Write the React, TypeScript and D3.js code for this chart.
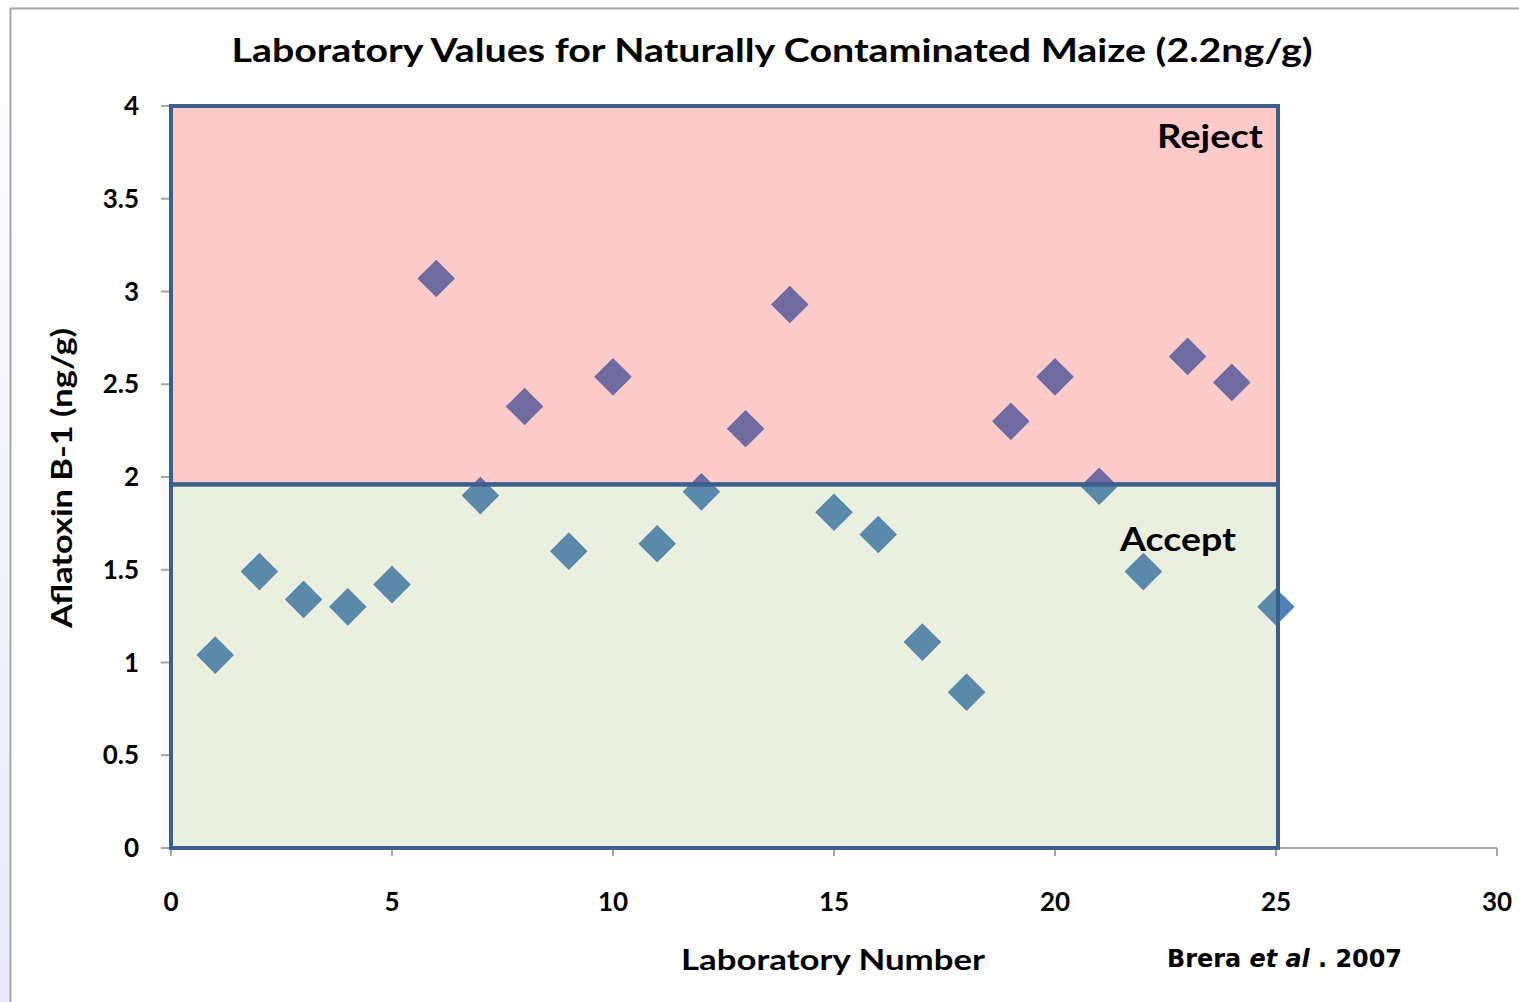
import React from "react";
import * as d3 from "d3";

const labs = [1, 2, 3, 4, 5, 6, 7, 8, 9, 10, 11, 12, 13, 14, 15, 16, 17, 18, 19, 20, 21, 22, 23, 24, 25];
const values = [1.04, 1.49, 1.34, 1.3, 1.42, 3.07, 1.9, 2.38, 1.6, 2.54, 1.64, 1.92, 2.26, 2.93, 1.81, 1.69, 1.11, 0.84, 2.3, 2.54, 1.95, 1.49, 2.65, 2.51, 1.3];
const xTicks = [0, 5, 10, 15, 20, 25, 30];
const yTicks = [0, 0.5, 1, 1.5, 2, 2.5, 3, 3.5, 4];
const zoneLimit = 25;
const threshold = 1.96;
const yMax = 4;

const W = 1519;
const H = 1002;

export default function App() {
  const x = d3.scaleLinear().domain([0, 30]).range([171, 1497]);
  const y = d3.scaleLinear().domain([0, 4]).range([848, 106]);
  const diamond = d3.symbol().type(d3.symbolDiamond2).size(880)();
  const font = "Lato, 'Open Sans', sans-serif";

  const rejX = x(0), rejW = x(zoneLimit) - x(0) + 2;
  const rejY = y(yMax), rejH = y(threshold) - y(yMax);
  const accY = y(threshold), accH = y(0) - y(threshold);

  const markers = (fill: string) =>
    labs.map((l, i) => (
      <path key={l} d={diamond as string} transform={`translate(${x(l)},${y(values[i])})`} fill={fill} />
    ));

  return (
    <svg width={W} height={H} style={{ position: "absolute", left: 0, top: 0, background: "#fff" }}>
      <defs>
        <linearGradient id="lstrip" x1="0" y1="0" x2="0" y2="1">
          <stop offset="0" stopColor="#ffffff" />
          <stop offset="0.5" stopColor="#f3f4fb" />
          <stop offset="1" stopColor="#e8eaf8" />
        </linearGradient>
        <clipPath id="clipRej">
          <rect x={rejX} y={rejY} width={rejW} height={rejH} />
        </clipPath>
        <clipPath id="clipAcc">
          <rect x={rejX} y={accY} width={rejW} height={accH} />
        </clipPath>
      </defs>
      <rect x={0} y={0} width={10} height={H} fill="url(#lstrip)" />
      <line x1={10.5} y1={8} x2={10.5} y2={H} stroke="#a6a6a6" strokeWidth={2} />
      <line x1={10} y1={8.5} x2={W} y2={8.5} stroke="#a6a6a6" strokeWidth={2} />

      {/* zones */}
      <rect x={rejX} y={rejY} width={rejW} height={rejH} fill="#fdcaca" />
      <rect x={rejX} y={accY} width={rejW} height={accH} fill="#ebefdf" />

      {/* axes */}
      <line x1={x(0)} y1={y(0)} x2={x(30)} y2={y(0)} stroke="#a6a6a6" strokeWidth={2} />
      <line x1={x(0)} y1={y(0)} x2={x(0)} y2={y(4)} stroke="#a6a6a6" strokeWidth={2} />
      {xTicks.map((t) => (
        <g key={t}>
          <line x1={x(t)} y1={y(0)} x2={x(t)} y2={y(0) + 8} stroke="#a6a6a6" strokeWidth={2} />
          <text x={x(t)} y={911} textAnchor="middle" fontFamily={font} fontWeight={700} fontSize={26} fill="#000">
            {t}
          </text>
        </g>
      ))}
      {yTicks.map((t) => (
        <g key={t}>
          <line x1={x(0) - 10} y1={y(t)} x2={x(0)} y2={y(t)} stroke="#a6a6a6" strokeWidth={2} />
          <text x={139} y={y(t) + 9} textAnchor="end" fontFamily={font} fontWeight={700} fontSize={26} fill="#000">
            {t}
          </text>
        </g>
      ))}

      {/* markers */}
      <g>{markers("#4f81bd")}</g>
      <g clipPath="url(#clipRej)">{markers("#6f6aa0")}</g>
      <g clipPath="url(#clipAcc)">{markers("#5b89aa")}</g>

      {/* zone borders */}
      <rect x={rejX} y={rejY} width={rejW} height={rejH} fill="none" stroke="#3b5e8d" strokeWidth={4} />
      <rect x={rejX} y={accY} width={rejW} height={accH} fill="none" stroke="#3b5e8d" strokeWidth={4} />

      {/* texts */}
      <text x={772} y={62} textAnchor="middle" fontFamily={font} fontWeight={700} fontSize={33} fill="#000" textLength={1081} lengthAdjust="spacingAndGlyphs">
        Laboratory Values for Naturally Contaminated  Maize (2.2ng/g)
      </text>
      <text x={1263} y={148} textAnchor="end" fontFamily={font} fontWeight={700} fontSize={33} fill="#000" textLength={106} lengthAdjust="spacingAndGlyphs">
        Reject
      </text>
      <text x={1236} y={551} textAnchor="end" fontFamily={font} fontWeight={700} fontSize={33} fill="#000" textLength={116} lengthAdjust="spacingAndGlyphs">
        Accept
      </text>
      <text x={833} y={970} textAnchor="middle" fontFamily={font} fontWeight={700} fontSize={29} fill="#000" textLength={304} lengthAdjust="spacingAndGlyphs">
        Laboratory Number
      </text>
      <text transform={`translate(72,478) rotate(-90)`} textAnchor="middle" fontFamily={font} fontWeight={700} fontSize={29} fill="#000" textLength={300} lengthAdjust="spacingAndGlyphs">
        Aflatoxin B-1 (ng/g)
      </text>
      <text x={1167} y={967} fontFamily="'DejaVu Sans', Verdana, sans-serif" fontWeight={700} fontSize={25} fill="#000" textLength={235} lengthAdjust="spacingAndGlyphs">
        Brera <tspan fontStyle="italic">et al</tspan> . 2007
      </text>
    </svg>
  );
}
